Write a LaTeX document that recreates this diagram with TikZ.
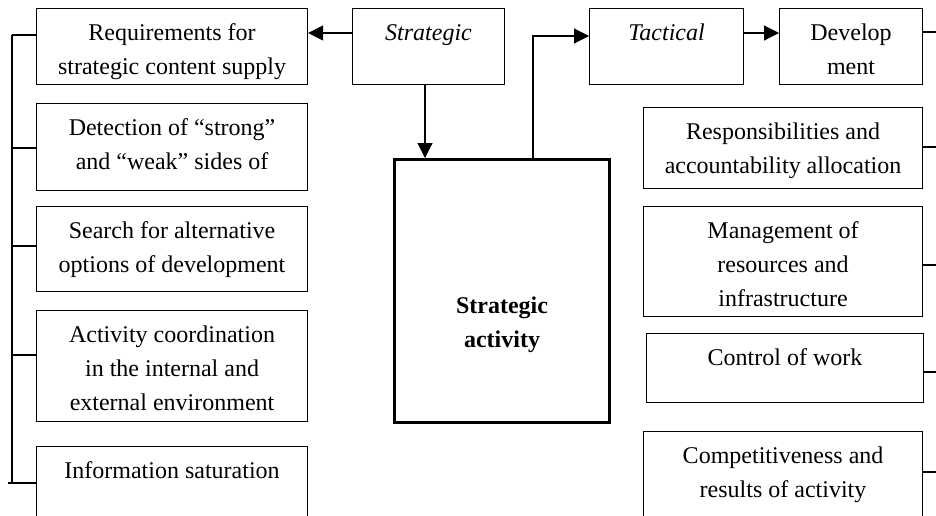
\documentclass[tikz,border=0pt]{standalone}
\usepackage{fontspec}
\setmainfont{Liberation Serif}
\usetikzlibrary{arrows.meta}
\begin{document}
\begin{tikzpicture}[x=1pt,y=-1pt,
  box/.style={draw, line width=1.1pt, inner sep=0pt, anchor=north west},
  bigbox/.style={box, line width=3pt},
  txt/.style={font=\fontsize{24}{34}\selectfont, align=center, anchor=north, inner sep=0pt},
  arr/.style={-{Triangle[length=15pt,width=15pt]}, line width=1.1pt},
  ln/.style={line width=1.1pt}]
\useasboundingbox (0,0) rectangle (936,515);
\fill[white] (0,0) rectangle (936,515);
\clip (0,0) rectangle (936,515);
% left boxes
\node[box, minimum width=271pt, minimum height=76pt] (L1) at (36,8) {};
\node[box, minimum width=271pt, minimum height=87pt] (L2) at (36,103) {};
\node[box, minimum width=271pt, minimum height=85pt] (L3) at (36,206) {};
\node[box, minimum width=271pt, minimum height=111pt] (L4) at (36,310) {};
\node[box, minimum width=271pt, minimum height=100pt] (L5) at (36,446) {};
% top boxes
\node[box, minimum width=152pt, minimum height=76pt] (S) at (352,8) {};
\node[box, minimum width=154pt, minimum height=76pt] (T) at (589,8) {};
\node[box, minimum width=143pt, minimum height=76pt] (D) at (779,8) {};
% right boxes
\node[box, minimum width=279pt, minimum height=81pt] (R1) at (643,107) {};
\node[box, minimum width=279pt, minimum height=110pt] (R2) at (643,206) {};
\node[box, minimum width=277pt, minimum height=69pt] (R3) at (646,333) {};
\node[box, minimum width=279pt, minimum height=100pt] (R4) at (643,431) {};
% central box
\node[bigbox, minimum width=215pt, minimum height=263pt] (B) at (393,158) {};
% texts
\node[txt] (tL1) at ([yshift=-8pt]L1.north) {\strut Requirements for\\strategic content supply};
\node[txt] (tL2) at ([yshift=-8pt]L2.north) {\strut Detection of “strong”\\and “weak” sides of};
\node[txt] (tL3) at ([yshift=-8pt]L3.north) {\strut Search for alternative\\options of development};
\node[txt] (tL4) at ([yshift=-8pt]L4.north) {\strut Activity coordination\\in the internal and\\external environment};
\node[txt] (tL5) at ([yshift=-8pt]L5.north) {\strut Information saturation};
\node[txt] (tS) at ([yshift=-8pt]S.north) {\strut\textit{Strategic}};
\node[txt] (tT) at ([yshift=-8pt]T.north) {\strut\textit{Tactical}};
\node[txt] (tD) at ([yshift=-8pt]D.north) {\strut Develop\\ment};
\node[txt] (tR1) at ([yshift=-8pt]R1.north) {\strut Responsibilities and\\accountability allocation};
\node[txt] (tR2) at ([yshift=-8pt]R2.north) {\strut Management of\\resources and\\infrastructure};
\node[txt] (tR3) at ([yshift=-8pt]R3.north) {\strut Control of work};
\node[txt] (tR4) at ([yshift=-8pt]R4.north) {\strut Competitiveness and\\results of activity};
\node[txt] (tB) at ([yshift=-131pt]B.north) {\strut\textbf{Strategic}\\\textbf{activity}};
% connectors
\draw[arr] (S.west |- 0,33) -- (L1.east |- 0,33);
\draw[arr] (S.south -| 425,0) -- (B.north -| 425,0);
\draw[arr] (B.north -| 533,0) |- (T.west |- 0,36);
\draw[arr] (T.east |- 0,33) -- (D.west |- 0,33);
\coordinate (dr) at (940,32);
\draw[ln] (D.east |- 0,32) -- (dr);
% left bus
\coordinate (bt) at (12,35);
\coordinate (bb) at (12,483);
\coordinate (be) at (8,483);
\draw[ln] (bt) -- (bb);
\draw[ln] (L1.west |- 0,35) -- (bt);
\draw[ln] (L2.west |- 0,148) -- (bt |- 0,148);
\draw[ln] (L3.west |- 0,246) -- (bt |- 0,246);
\draw[ln] (L4.west |- 0,355) -- (bt |- 0,355);
\draw[ln] (L5.west |- 0,483) -- (be);
% right stubs
\coordinate (re) at (940,0);
\draw[ln] (R1.east |- 0,147) -- (re |- 0,147);
\draw[ln] (R2.east |- 0,265) -- (re |- 0,265);
\draw[ln] (R3.east |- 0,372) -- (re |- 0,372);
\draw[ln] (R4.east |- 0,472) -- (re |- 0,472);
\end{tikzpicture}
\end{document}
